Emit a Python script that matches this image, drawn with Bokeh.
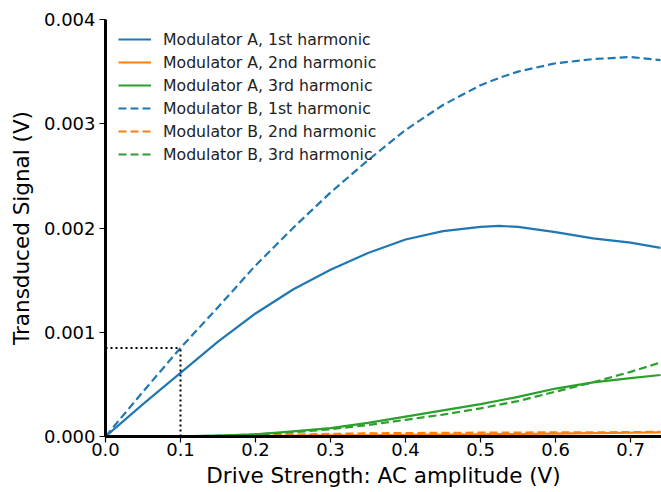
from bokeh.plotting import figure
from bokeh.models import Range1d, FixedTicker, PrintfTickFormatter, Legend, LegendItem
from bokeh.embed import file_html
from bokeh.resources import INLINE

# Drive amplitude (V)
drive = [0.0, 0.05, 0.10, 0.15, 0.20, 0.25, 0.30, 0.35, 0.40, 0.45, 0.50, 0.525, 0.55, 0.60, 0.65, 0.70, 0.74]

# Modulator A
mod_a_h1 = [0.0, 0.00031, 0.00061, 0.00091, 0.00118, 0.00141, 0.00160, 0.00176, 0.00189, 0.00197,
            0.00201, 0.00202, 0.00201, 0.00196, 0.00190, 0.00186, 0.00181]
mod_a_h2 = [0.0, 0.0, 0.0, 0.000001, 0.000003, 0.000006, 0.00001, 0.000012, 0.000015, 0.000018,
            0.00002, 0.000022, 0.000024, 0.000028, 0.000032, 0.000036, 0.00004]
mod_a_h3 = [0.0, 0.0, 0.000002, 0.000008, 0.00002, 0.00005, 0.00008, 0.00013, 0.00019, 0.00025,
            0.00031, 0.000345, 0.00038, 0.00046, 0.00052, 0.00056, 0.00059]

# Modulator B
mod_b_h1 = [0.0, 0.00043, 0.00085, 0.00124, 0.00164, 0.00200, 0.00234, 0.00265, 0.00294, 0.00318,
            0.00337, 0.00344, 0.00350, 0.00358, 0.00362, 0.00364, 0.00361]
mod_b_h2 = [0.0, 0.0, 0.000001, 0.000004, 0.00001, 0.000018, 0.000025, 0.00003, 0.000033, 0.000035,
            0.000037, 0.000038, 0.000038, 0.00004, 0.00004, 0.000042, 0.000045]
mod_b_h3 = [0.0, 0.0, 0.000002, 0.000007, 0.00002, 0.00004, 0.00007, 0.00011, 0.00016, 0.00021,
            0.00027, 0.000305, 0.00034, 0.00043, 0.00052, 0.00062, 0.00071]

# Marker (dotted guide)
marker_x = 0.1
marker_y = 0.00085

x_ticks = [0.0, 0.1, 0.2, 0.3, 0.4, 0.5, 0.6, 0.7]
y_ticks = [0.0, 0.001, 0.002, 0.003, 0.004]

labels = ["Modulator A, 1st harmonic", "Modulator A, 2nd harmonic", "Modulator A, 3rd harmonic",
          "Modulator B, 1st harmonic", "Modulator B, 2nd harmonic", "Modulator B, 3rd harmonic"]
colors = ["#1f77b4", "#ff7f0e", "#2ca02c"]

FONT = "DejaVu Sans"

p = figure(width=661, height=492, output_backend="svg", toolbar_location=None,
           x_range=Range1d(0, 0.7413), y_range=Range1d(0, 0.004),
           min_border_left=105, min_border_right=0, min_border_top=19, min_border_bottom=56)
p.outline_line_color = None
p.xgrid.visible = False
p.ygrid.visible = False
p.background_fill_color = "white"
p.border_fill_color = "white"

series = [mod_a_h1, mod_a_h2, mod_a_h3, mod_b_h1, mod_b_h2, mod_b_h3]
renderers = []
for i, ys in enumerate(series):
    dash = "solid" if i < 3 else "8 4"
    r = p.line(drive, ys, line_color=colors[i % 3], line_width=2.2, line_dash=dash,
               line_join="round")
    renderers.append(r)

# dotted guide lines
p.line([0.0, marker_x], [marker_y, marker_y], line_color="black", line_width=2, line_dash="2 3")
p.line([marker_x, marker_x], [0.0, marker_y], line_color="black", line_width=2, line_dash="2 3")

legend = Legend(items=[LegendItem(label=l, renderers=[r]) for l, r in zip(labels, renderers)],
                location=(13, 272), padding=5, margin=0, spacing=3,
                glyph_width=33, glyph_height=20, label_height=20, label_standoff=12,
                label_text_font=FONT, label_text_font_size="15.7px", label_text_color="#222222",
                border_line_color=None, background_fill_alpha=0)
p.add_layout(legend, "center")

for ax in (p.xaxis[0], p.yaxis[0]):
    ax.axis_line_width = 3
    ax.axis_line_color = "black"
    ax.major_tick_line_color = "black"
    ax.major_tick_line_width = 1.2
    ax.major_tick_out = 6
    ax.major_tick_in = 0
    ax.minor_tick_line_color = None
    ax.major_label_text_font = FONT
    ax.major_label_text_font_size = "18px"
    ax.major_label_text_color = "black"
    ax.axis_label_text_font = FONT
    ax.axis_label_text_font_size = "21.5px"
    ax.axis_label_text_font_style = "normal"
    ax.axis_label_text_color = "black"

p.xaxis[0].ticker = FixedTicker(ticks=x_ticks)
p.yaxis[0].ticker = FixedTicker(ticks=y_ticks)
p.xaxis[0].formatter = PrintfTickFormatter(format="%.1f")
p.yaxis[0].formatter = PrintfTickFormatter(format="%.3f")
p.xaxis[0].axis_label = "Drive Strength: AC amplitude (V)"
p.yaxis[0].axis_label = "Transduced Signal (V)"
p.xaxis[0].major_label_standoff = 0
p.xaxis[0].axis_label_standoff = 4
p.yaxis[0].major_label_standoff = 4
p.yaxis[0].axis_label_standoff = 7

open("out.html", "w").write(file_html(p, INLINE))
